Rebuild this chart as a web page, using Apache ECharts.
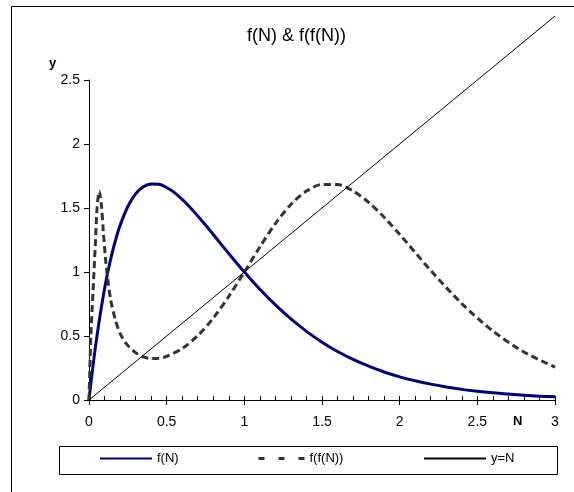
<!DOCTYPE html>
<html>
<head>
<meta charset="utf-8">
<script src="https://cdn.jsdelivr.net/npm/echarts@6/dist/echarts.min.js"></script>
<style>
  html, body { margin: 0; padding: 0; background: #fff; }
  #chart { width: 574px; height: 492px; }
</style>
</head>
<body>
<div id="chart"></div>
<script>
// Ricker-type map f(N) and its second iterate f(f(N)), with the identity line y = N
const fnX = [0, 0.01, 0.02, 0.03, 0.04, 0.05, 0.07, 0.1, 0.125, 0.15, 0.175, 0.2, 0.25, 0.3, 0.35, 0.4, 0.45, 0.5,
             0.55, 0.6, 0.65, 0.7, 0.75, 0.8, 0.85, 0.9, 0.95, 1.0, 1.1, 1.2, 1.3, 1.4, 1.5, 1.6, 1.7, 1.8, 1.9,
             2.0, 2.1, 2.2, 2.3, 2.4, 2.5, 2.6, 2.7, 2.8, 2.9, 3.0];
const fnY = [0, 0.108, 0.21, 0.308, 0.401, 0.489, 0.652, 0.867, 1.021, 1.153, 1.267, 1.364, 1.512, 1.61, 1.666, 1.688, 1.685, 1.66,
             1.62, 1.567, 1.506, 1.438, 1.367, 1.293, 1.218, 1.144, 1.071, 1.0, 0.865, 0.743, 0.633, 0.536, 0.452, 0.379, 0.317, 0.264, 0.219,
             0.181, 0.15, 0.124, 0.102, 0.083, 0.068, 0.056, 0.046, 0.037, 0.03, 0.025];

const ffX = [0, 0.012, 0.026, 0.04, 0.052, 0.066, 0.08, 0.092, 0.105, 0.12, 0.14, 0.17, 0.2,
             0.24, 0.3, 0.35, 0.4, 0.45, 0.5, 0.6, 0.7, 0.8, 0.9, 1.0, 1.1, 1.2, 1.3, 1.4, 1.5, 1.6,
             1.7, 1.8, 1.9, 2.0, 2.2, 2.4, 2.6, 2.8, 3.0];
const ffY = [0, 0.5, 0.85, 1.2, 1.5, 1.63, 1.52, 1.32, 1.12, 0.95, 0.78, 0.625, 0.52,
             0.44, 0.37, 0.337, 0.324, 0.326, 0.341, 0.402, 0.503, 0.64, 0.81, 1.0, 1.196, 1.378, 1.528, 1.632, 1.684, 1.683,
             1.633, 1.544, 1.428, 1.294, 1.012, 0.753, 0.539, 0.375, 0.257];

const idX = [0, 3];
const idY = [0, 3];

const seriesNames = ['f(N)', 'f(f(N))', 'y=N'];
const chartTitle = 'f(N) & f(f(N))';
const xName = 'N';
const yName = 'y';

const pairs = (xs, ys) => xs.map((x, i) => [x, ys[i]]);

const FONT = '"Liberation Sans", Arial, sans-serif';
const chart = echarts.init(document.getElementById('chart'), null, { renderer: 'canvas' });

const legendBase = {
  orient: 'horizontal',
  top: 452,
  itemHeight: 14,
  itemGap: 0,
  padding: 0,
  itemStyle: { opacity: 0, borderWidth: 0 },
  textStyle: { fontFamily: FONT, fontSize: 13, color: '#000' },
  selectedMode: false
};

chart.setOption({
  backgroundColor: '#fff',
  animation: false,
  title: {
    text: chartTitle,
    left: 242,
    top: 22,
    textStyle: { fontFamily: FONT, fontSize: 18, fontWeight: 'normal', color: '#000' }
  },
  grid: { left: 89, right: 19, top: 80, bottom: 92 },
  xAxis: [
    {
      type: 'value', min: 0, max: 3, interval: 0.5,
      axisLine: { onZero: false, lineStyle: { color: '#000', width: 1 } },
      axisTick: { inside: false, length: 5, lineStyle: { color: '#000' } },
      axisLabel: { margin: 15, fontFamily: FONT, fontSize: 14, color: '#000' },
      splitLine: { show: false }
    },
    {
      type: 'value', min: 0, max: 3, interval: 0.1, position: 'bottom',
      axisLine: { show: false, onZero: false },
      axisTick: { inside: true, length: 4, lineStyle: { color: '#000' } },
      axisLabel: { show: false },
      splitLine: { show: false }
    }
  ],
  yAxis: {
    type: 'value', min: 0, max: 2.5, interval: 0.5,
    axisLine: { show: true, onZero: false, lineStyle: { color: '#000', width: 1 } },
    axisTick: { show: true, inside: false, length: 5, lineStyle: { color: '#000' } },
    axisLabel: { margin: 9, fontFamily: FONT, fontSize: 14, color: '#000' },
    splitLine: { show: false }
  },
  legend: [
    Object.assign({}, legendBase, { data: [seriesNames[0]], left: 99, itemWidth: 52 }),
    Object.assign({}, legendBase, { data: [seriesNames[1]], left: 257, itemWidth: 46,
      lineStyle: { type: [6, 14], width: 3 } }),
    Object.assign({}, legendBase, { data: [seriesNames[2]], left: 423, itemWidth: 62 })
  ],
  graphic: [
    { type: 'rect', silent: true, z: -1,
      shape: { x: 11.5, y: 6.5, width: 620, height: 520 },
      style: { fill: 'none', stroke: '#000', lineWidth: 1 } },
    { type: 'rect', silent: true,
      shape: { x: 59.5, y: 446.5, width: 498, height: 28 },
      style: { fill: 'none', stroke: '#000', lineWidth: 1 } },
    { type: 'text', left: 49, top: 57,
      style: { text: yName, font: 'bold 13px ' + FONT, fill: '#000' } },
    { type: 'text', left: 513, top: 415,
      style: { text: xName, font: 'bold 13px ' + FONT, fill: '#000' } }
  ],
  series: [
    {
      name: seriesNames[0], type: 'line', xAxisIndex: 0,
      data: pairs(fnX, fnY), smooth: 0.4, symbol: 'none',
      lineStyle: { color: '#000080', width: 3 }, itemStyle: { color: '#000080' }
    },
    {
      name: seriesNames[1], type: 'line', xAxisIndex: 0,
      data: pairs(ffX, ffY), smooth: 0.3, symbol: 'none',
      lineStyle: { color: '#333333', width: 3, type: [7, 4] }, itemStyle: { color: '#333333' }
    },
    {
      name: seriesNames[2], type: 'line', xAxisIndex: 0,
      data: pairs(idX, idY), symbol: 'none', clip: false,
      lineStyle: { color: '#000', width: 1 }, itemStyle: { color: '#000' }
    }
  ]
});
</script>
</body>
</html>
